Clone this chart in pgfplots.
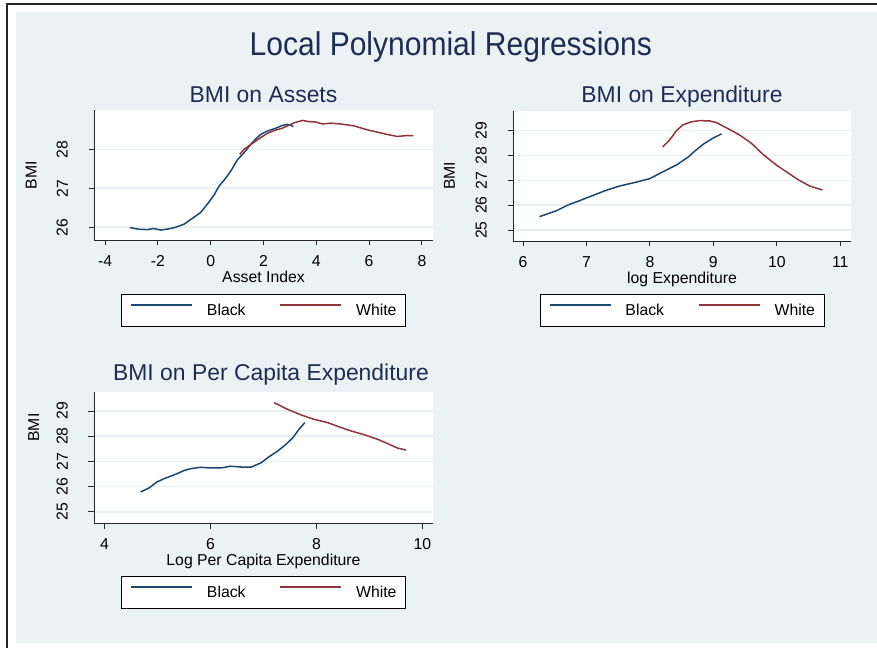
\documentclass[border=0pt]{standalone}
\usepackage{pgfplots}
\pgfplotsset{compat=1.18}
\usepackage{fontspec}
\setmainfont{Liberation Sans}
\definecolor{bgc}{RGB}{234,242,243}
\definecolor{gridc}{RGB}{232,240,242}
\definecolor{sblue}{RGB}{26,71,111}
\definecolor{sred}{RGB}{144,53,59}
\definecolor{titc}{RGB}{30,45,85}
\newcommand{\fs}{\fontsize{15.8}{18}\selectfont}
\pgfplotsset{
  stata/.style={
    scale only axis,
    anchor=south west,
    axis x line*=bottom,
    axis y line*=left,
    axis line style={black!85, line width=0.9pt},
    axis background/.style={fill=white},
    tick align=outside,
    major tick length=5.5pt,
    every tick/.style={black!85, line width=0.9pt},
    ymajorgrids,
    grid style={gridc, line width=1.6pt},
    ticklabel style={font=\fs, inner sep=0pt},
    label style={font=\fs, inner sep=0pt},
    xticklabel style={anchor=north, yshift=-10pt},
    yticklabel style={xshift=-20.5pt, rotate=90, anchor=south},
    xlabel style={at={(axis description cs:0.5,0)}, anchor=north, yshift=-30.5pt},
    title style={font=\fontsize{22.9}{26}\selectfont, color=titc, anchor=base, inner sep=0pt},
    legend columns=2,
    legend style={font=\fs, draw=black, line width=0.8pt, fill=white, inner xsep=9pt, inner ysep=9.5pt, anchor=north, nodes={inner sep=0pt}, column sep=14pt, /tikz/every even column/.append style={column sep=34pt}, cells={anchor=west}},
    legend image code/.code={\draw[#1] (0pt,5.6pt) -- (61pt,5.6pt);},
    every axis plot/.append style={line width=1.5pt},
    clip=false,
  }
}
\begin{document}
\begin{tikzpicture}[x=1pt,y=1pt]
\path[use as bounding box] (0,0) rectangle (877,648);
\fill[white] (0,0) rectangle (877,648);
\draw[line width=1.7pt, black!85] (7.3,0) -- (7.3,643.7) -- (877,643.7);
\fill[bgc] (16,5.3) rectangle (877,636);
\node[anchor=base, text=titc, font=\fontsize{33}{36}\selectfont, inner sep=0pt, xscale=0.91] at (450.8,592.3) {Local Polynomial Regressions};

% Panel 1
\begin{axis}[stata,
  at={(94pt,408pt)}, width=339pt, height=130pt,
  xmin=-4.42, xmax=8.42, ymin=25.674, ymax=29.008,
  xtick={-4,-2,0,2,4,6,8}, xticklabels={-4,-2,0,2,4,6,8},
  ytick={26,27,28}, yticklabels={26,27,28},
  xlabel={Asset Index}, ylabel={BMI},
  ylabel style={at={(axis description cs:-0.169,0.5)}, anchor=south},
  title={BMI on Assets},
  title style={at={(axis description cs:0.5,1)}, yshift=1pt},
  legend style={at={(0.5,-0.4154)}},
]
\addplot[sblue] coordinates {
(-3.06,25.99) (-2.71,25.95) (-2.40,25.94) (-2.17,25.97) (-1.89,25.93) (-1.58,25.96)
(-1.33,26.00) (-1.01,26.08) (-0.69,26.23) (-0.38,26.38) (-0.13,26.59) (0.13,26.83)
(0.32,27.06) (0.51,27.21) (0.76,27.44) (1.01,27.73) (1.26,27.91) (1.52,28.13)
(1.70,28.26) (1.89,28.38) (2.15,28.47) (2.46,28.54) (2.71,28.61) (2.90,28.64)
(3.03,28.62) (3.13,28.58)};
\addlegendentry{Black}
\addplot[sred] coordinates {
(1.10,27.87) (1.26,28.00) (1.45,28.09) (1.64,28.18) (1.89,28.30) (2.15,28.41)
(2.40,28.48) (2.71,28.54) (2.97,28.62) (3.16,28.68) (3.47,28.74) (3.72,28.71)
(3.98,28.70) (4.23,28.65) (4.55,28.67) (4.92,28.65) (5.43,28.60) (5.93,28.50)
(6.31,28.44) (6.69,28.38) (7.07,28.33) (7.39,28.35) (7.68,28.35)};
\addlegendentry{White}
\end{axis}

% Panel 2
\begin{axis}[stata,
  at={(513pt,407pt)}, width=338pt, height=130.3pt,
  xmin=5.842, xmax=11.17, ymin=24.56, ymax=29.80,
  xtick={6,7,8,9,10,11}, xticklabels={6,7,8,9,10,11},
  ytick={25,26,27,28,29}, yticklabels={25,26,27,28,29},
  xlabel={log Expenditure}, ylabel={BMI},
  ylabel style={at={(axis description cs:-0.1716,0.5)}, anchor=south},
  title={BMI on Expenditure},
  title style={at={(axis description cs:0.5,1)}, yshift=1.7pt},
  legend style={at={(0.5,-0.4068)}},
]
\addplot[sblue] coordinates {
(6.26,25.54) (6.53,25.78) (6.71,26.01) (6.89,26.18) (7.08,26.37) (7.29,26.58)
(7.52,26.77) (7.79,26.93) (8.00,27.07) (8.21,27.35) (8.42,27.62) (8.60,27.93)
(8.71,28.18) (8.84,28.45) (8.99,28.69) (9.13,28.87)};
\addlegendentry{Black}
\addplot[sred] coordinates {
(8.20,28.34) (8.31,28.62) (8.42,29.00) (8.52,29.23) (8.65,29.35) (8.78,29.40)
(8.94,29.39) (9.05,29.32) (9.20,29.12) (9.41,28.83) (9.60,28.49) (9.78,28.05)
(9.99,27.62) (10.20,27.26) (10.36,26.99) (10.52,26.77) (10.72,26.61)};
\addlegendentry{White}
\end{axis}

% Panel 3
\begin{axis}[stata,
  at={(94pt,125pt)}, width=339pt, height=130.7pt,
  xmin=3.80, xmax=10.20, ymin=24.56, ymax=29.74,
  xtick={4,6,8,10}, xticklabels={4,6,8,10},
  ytick={25,26,27,28,29}, yticklabels={25,26,27,28,29},
  xlabel={Log Per Capita Expenditure}, ylabel={BMI},
  ylabel style={at={(axis description cs:-0.161,0.73)}, anchor=south},
  title={BMI on Per Capita Expenditure},
  title style={at={(axis description cs:0.522,1)}, yshift=5.3pt},
  legend style={at={(0.5,-0.4055)}},
]
\addplot[sblue] coordinates {
(4.68,25.79) (4.84,25.95) (4.99,26.19) (5.15,26.34) (5.34,26.49) (5.50,26.64)
(5.62,26.71) (5.81,26.77) (6.00,26.74) (6.19,26.74) (6.38,26.81) (6.57,26.78)
(6.76,26.77) (6.95,26.94) (7.10,27.18) (7.26,27.40) (7.42,27.67) (7.55,27.93)
(7.67,28.27) (7.78,28.54)};
\addlegendentry{Black}
\addplot[sred] coordinates {
(7.20,29.33) (7.45,29.07) (7.70,28.85) (7.95,28.67) (8.21,28.54) (8.40,28.39)
(8.65,28.21) (8.90,28.06) (9.15,27.88) (9.34,27.71) (9.53,27.53) (9.69,27.45)};
\addlegendentry{White}
\end{axis}
\end{tikzpicture}
\end{document}
